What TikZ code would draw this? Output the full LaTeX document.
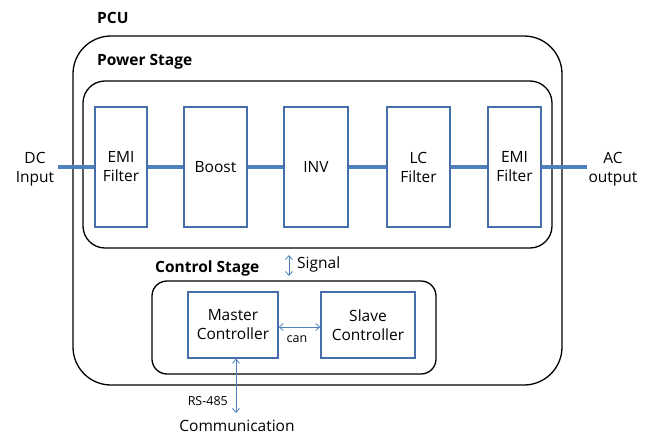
\documentclass[tikz,border=0pt]{standalone}
\usepackage{fontspec}
\setmainfont{Open Sans}
\usetikzlibrary{arrows.meta}
\definecolor{bl}{RGB}{79,129,189}
\definecolor{bd}{RGB}{70,110,170}
\begin{document}
\begin{tikzpicture}[x=1pt,y=-1pt,
  blk/.style={draw=bd,line width=1.3pt,inner sep=0pt,align=center,font=\fontsize{15.5}{19}\selectfont},
  grp/.style={draw=black,line width=1.3pt},
  lbl/.style={font=\bfseries\fontsize{15.5}{18}\selectfont,anchor=west,inner sep=0pt},
  txt/.style={align=center,font=\fontsize{15.5}{19}\selectfont,inner sep=0pt},
  sml/.style={font=\fontsize{12.5}{14}\selectfont,inner sep=0pt},
  bus/.style={draw=bl,line width=4pt},
  dbl/.style={draw=bl,line width=0.8pt,{Straight Barb[length=4pt,width=7pt]}-{Straight Barb[length=4pt,width=7pt]}}]
\useasboundingbox (0,0) rectangle (654,434);
% groups
\draw[grp,rounded corners=38pt] (73,36) rectangle (562,385);
\node[lbl] (pcu) at (97,18) {PCU};
\draw[grp,rounded corners=22pt] (83,81) rectangle (552,248);
\node[lbl] (ps) at (97,62) {Power Stage};
% bus line
\coordinate (l) at (58,167);
\coordinate (r) at (587,167);
\node[blk,minimum width=52pt,minimum height=120pt] (emi1) at (121,167) {EMI\\Filter};
\node[blk,minimum width=63pt,minimum height=120pt] (boost) at (215.5,167) {Boost};
\node[blk,minimum width=64pt,minimum height=120pt] (inv) at (316,167) {INV};
\node[blk,minimum width=63pt,minimum height=120pt] (lc) at (418.5,167) {LC\\Filter};
\node[blk,minimum width=53pt,minimum height=120pt] (emi2) at (514.5,167) {EMI\\Filter};
\draw[bus] (l) -- (emi1.west);
\draw[bus] (emi1.east) -- (boost.west);
\draw[bus] (boost.east) -- (inv.west);
\draw[bus] (inv.east) -- (lc.west);
\draw[bus] (lc.east) -- (emi2.west);
\draw[bus] (emi2.east) -- (r);
\node[txt] (dc) at (35,169) {DC\\Input};
\node[txt] (ac) at (613,169) {AC\\output};
% control stage
\draw[grp,rounded corners=15pt] (152,281) rectangle (436,374);
\node[lbl] (cs) at (155,268) {Control Stage};
\coordinate (s1) at (289,255);
\coordinate (s2) at (289,276);
\draw[dbl] (s1) -- (s2);
\node[txt,anchor=west] (sig) at (297,264) {Signal};
\node[blk,minimum width=90pt,minimum height=66pt] (mc) at (233,325) {Master\\Controller};
\node[blk,minimum width=94pt,minimum height=66pt] (sc) at (368,325) {Slave\\Controller};
\draw[dbl] (mc.east |- 0,327) -- (sc.west |- 0,327);
\node[sml] (can) at (297,339) {can};
\coordinate (rs) at (236,413);
\draw[dbl] (mc.south -| rs) -- (rs);
\node[sml,anchor=east] (rsl) at (228,401) {RS-485};
\node[txt] (com) at (237,426) {Communication};
\end{tikzpicture}
\end{document}
